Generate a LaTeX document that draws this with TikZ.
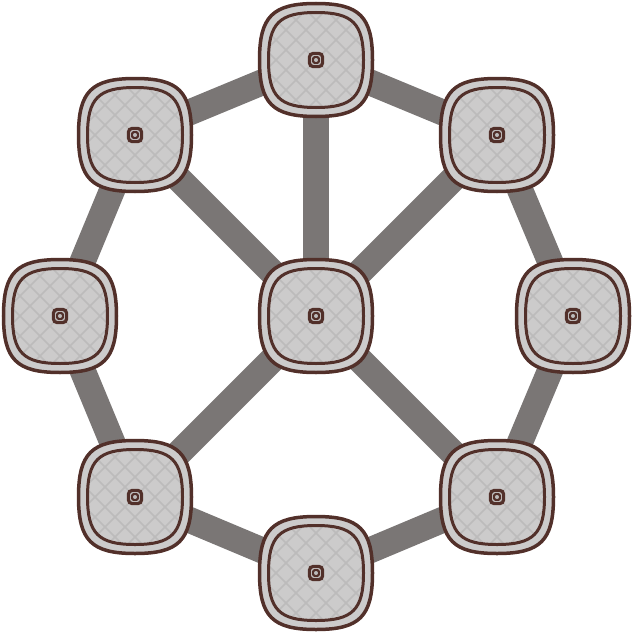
\documentclass[tikz,border=0pt]{standalone}
\usetikzlibrary{backgrounds}
\definecolor{rimbrown}{HTML}{52302A}
\definecolor{padgray}{HTML}{CCCBCB}
\definecolor{hatchgray}{HTML}{BCBBBB}
\definecolor{linkgray}{HTML}{7A7675}
% rounded square with bulging sides, half size #1
\newcommand\padpath[1]{(#1,0) .. controls (#1,0.77*#1) and (0.77*#1,#1) .. (0,#1)
  .. controls (-0.77*#1,#1) and (-#1,0.77*#1) .. (-#1,0)
  .. controls (-#1,-0.77*#1) and (-0.77*#1,-#1) .. (0,-#1)
  .. controls (0.77*#1,-#1) and (#1,-0.77*#1) .. (#1,0) -- cycle}
\tikzset{
  hub/.style={circle, minimum size=150pt, inner sep=0pt,
    path picture={
      \begin{scope}[shift={(path picture bounding box.center)}]
        \draw[rimbrown, fill=padgray, line width=3.5pt] \padpath{56.5};
        \begin{scope}
          \clip \padpath{47.5};
          \foreach \d in {-160,-140,...,160} {
            \draw[hatchgray, line width=1.6pt] (\d-60,-60) -- ++(120,120);
            \draw[hatchgray, line width=1.6pt] (\d+60,-60) -- ++(-120,120);
          }
        \end{scope}
        \draw[rimbrown, line width=3pt] \padpath{47.5};
        \draw[rimbrown, line width=3.2pt, rounded corners=3.5pt] (-6.5,-6.5) rectangle (6.5,6.5);
        \draw[rimbrown, line width=2pt, rounded corners=1.2pt] (-2.8,-2.8) rectangle (2.8,2.8);
      \end{scope}
    }},
  spoke/.style={draw=linkgray, line width=26pt}
}
\begin{document}
\begin{tikzpicture}[x=1pt,y=1pt]
  \useasboundingbox (0,0) rectangle (634,-634);
  \foreach \name/\x/\y in {c/316/316, n/316/60, ne/497/135, e/573/316, se/497/497,
      s/316/573, sw/135/497, w/60/316, nw/135/135}
    \node[hub] (\name) at (\x,-\y) {};
  \begin{scope}[on background layer]
    \foreach \a/\b in {c/n, c/ne, c/se, c/sw, c/nw,
        n/ne, ne/e, e/se, se/s, s/sw, sw/w, w/nw, nw/n}
      \draw[spoke] (\a.center) -- (\b.center);
  \end{scope}
\end{tikzpicture}
\end{document}
